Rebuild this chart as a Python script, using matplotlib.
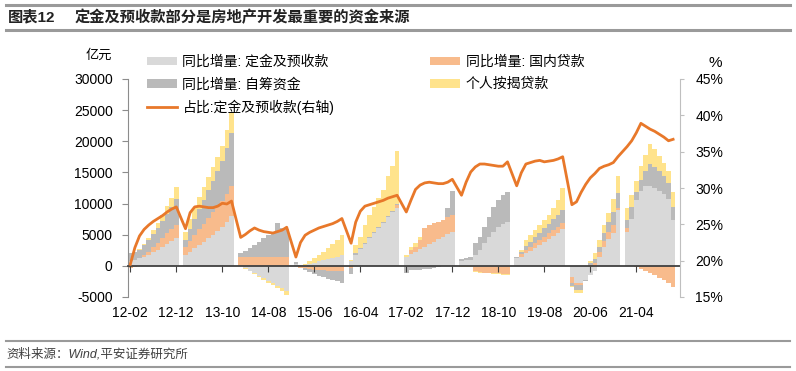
import matplotlib
matplotlib.use("Agg")
import matplotlib.pyplot as plt
import numpy as np
from matplotlib.lines import Line2D
from matplotlib.patches import Patch

plt.rcParams["font.family"] = ["Liberation Sans", "Noto Sans CJK SC", "DejaVu Sans"]
plt.rcParams["axes.unicode_minus"] = False

# 1-2月合并公布，所以每年只有 2 月到 12 月（1 月留空）
years = [12, 13, 14, 15, 16, 17, 18, 19, 20, 21]
months = [2, 3, 4, 5, 6, 7, 8, 9, 10, 11, 12]

# 同比增量（亿元），每行一年：2月 ... 12月
deposit = [  # 定金及预收款
    800, 1000, 1200, 1500, 1800, 2200, 2600, 3000, 3500, 4000, 4500,
    1800, 2300, 2800, 3300, 3800, 4400, 5000, 5600, 6200, 7000, 8000,
    0, -400, -800, -1200, -1600, -2000, -2400, -2800, -3200, -3600, -4100,
    300, 100, 200, 300, 500, 700, 900, 1100, 1300, 1500, 1700,
    700, 1800, 2700, 3500, 4400, 5200, 6100, 6900, 7800, 8600, 9300,
    1500, 1900, 2300, 2700, 3100, 3500, 3900, 4300, 4700, 5100, 5500,
    800, 900, 1000, 1800, 2600, 3600, 4700, 5500, 6300, 6800, 7100,
    1300, 1500, 2000, 2400, 2900, 3300, 3800, 4300, 4800, 5300, 5900,
    -1800, -2800, -2800, -2200, -1500, -900, 1500, 3000, 4300, 5300, 9000,
    5500, 7500, 10500, 12000, 12800, 12800, 12500, 12000, 11500, 10800, 7400,
]
loan = [  # 国内贷款
    -300, -200, -100, 200, 500, 800, 1100, 1400, 1700, 1900, 2000,
    1200, 1700, 2200, 2600, 3000, 3300, 3600, 3900, 4200, 4500, 4800,
    1400, 1400, 1400, 1400, 1400, 1400, 1500, 1500, 1500, 1500, 1500,
    0, -300, -400, -500, -600, -700, -700, -800, -800, -800, -800,
    -300, 0, 0, 0, 0, 0, 0, 0, 0, 0, 400,
    0, 700, 800, 1500, 2900, 3100, 3000, 2800, 2700, 2700, 2700,
    0, 0, 0, -800, -1000, -1100, -1100, -1200, -1200, -1300, -1300,
    0, 400, 600, 700, 800, 900, 900, 1000, 1000, 1000, 1000,
    -1000, -300, -300, 0, 200, 500, 700, 1000, 1200, 1300, 300,
    500, 0, -200, -500, -800, -1100, -1500, -1900, -2300, -2800, -3400,
]
self_fund = [  # 自筹资金
    1200, 1300, 1400, 1600, 1800, 2100, 2400, 2800, 3200, 3600, 4200,
    1200, 1900, 2600, 3200, 3800, 4400, 5000, 5700, 6400, 7500, 8600,
    700, 1000, 1500, 2000, 2500, 3000, 3500, 4000, 5400, 4500, 4400,
    300, -100, -300, -500, -700, -900, -1100, -1300, -1500, -1700, -1900,
    -1000, 200, 200, 200, 200, 200, 200, 200, 200, 200, 200,
    -1100, -600, -600, -600, -500, -500, -400, -200, 0, 1500, 3800,
    300, 400, 500, 1800, 2100, 2700, 3200, 4000, 4200, 4500, 4800,
    200, 300, 600, 800, 900, 1100, 1300, 1500, 1700, 1900, 2100,
    -500, -700, -700, -200, 200, 600, 900, 1200, 1500, 2000, 2400,
    1300, 1900, 1300, 1800, 2400, 3500, 3400, 3200, 3000, 2500, 2100,
]
mortgage = [  # 个人按揭贷款
    0, 0, 100, 200, 400, 600, 800, 1000, 1200, 1400, 2000,
    1300, 1600, 1700, 1900, 2000, 2100, 2200, 2300, 2400, 2800, 3300,
    0, -50, -100, -150, -200, -250, -300, -350, -400, -450, -600,
    0, 0, 100, 400, 700, 1000, 1400, 1800, 2200, 2700, 3200,
    300, 1400, 1800, 2900, 3600, 4100, 4600, 5100, 6400, 7200, 8500,
    300, 400, 500, 400, 0, 0, 0, 0, 0, 0, 0,
    -200, -200, -200, -200, -100, -100, -100, -100, -100, -100, -100,
    0, 400, 1000, 1100, 1200, 1300, 1400, 1400, 1800, 2400, 3500,
    -100, -600, -600, -100, 300, 900, 1100, 1300, 1500, 2200, 2700,
    2000, 2000, 1800, 2200, 2600, 3200, 2800, 2400, 2000, 1900, 2400,
]
# 占比:定金及预收款（%，右轴）
share = [
    19.5, 21.8, 23.4, 24.3, 24.9, 25.4, 25.8, 26.2, 26.7, 27.1, 27.4,
    24.4, 26.6, 27.4, 27.5, 27.4, 27.3, 27.3, 27.5, 27.9, 27.8, 28.2,
    23.2, 23.6, 24.1, 24.5, 24.2, 24.0, 23.9, 23.8, 24.0, 24.2, 24.6,
    20.5, 22.5, 23.5, 23.9, 24.2, 24.5, 24.7, 24.9, 25.1, 25.4, 25.8,
    22.4, 25.3, 26.8, 27.5, 27.7, 27.9, 28.1, 28.3, 28.6, 28.8, 29.0,
    26.7, 28.3, 29.8, 30.4, 30.7, 30.8, 30.7, 30.6, 30.6, 30.8, 31.2,
    29.0, 30.8, 32.2, 32.9, 33.3, 33.3, 33.2, 33.1, 33.0, 33.0, 33.6,
    30.3, 32.1, 33.3, 33.5, 33.7, 33.8, 33.6, 33.7, 33.8, 34.0, 34.3,
    27.7, 28.1, 29.4, 30.5, 31.4, 32.0, 32.7, 33.0, 33.2, 33.5, 34.3,
    35.7, 36.5, 37.6, 38.9, 38.5, 38.1, 37.8, 37.4, 37.0, 36.5, 36.7,
]

# 横轴按月排列（含空的1月），每 10 个月一个刻度
axis_months = [f"{y:02d}-{m:02d}" for y in years + [22] for m in range(1, 13)][1:121]
tick_step = 10

series = [
    ("同比增量: 定金及预收款", deposit, "#d9d9d9"),
    ("同比增量: 国内贷款", loan, "#f8bb8c"),
    ("同比增量: 自筹资金", self_fund, "#bababa"),
    ("个人按揭贷款", mortgage, "#ffe38c"),
]
line_color = "#e8782a"

labels = [f"{y:02d}-{m:02d}" for y in years for m in months]
x = np.array([axis_months.index(lab) for lab in labels])

fig = plt.figure(figsize=(7.96, 3.71), dpi=100)
ax = fig.add_axes([128 / 796, 1 - 297 / 371, 552 / 796, 218 / 371])

pos_bottom = np.zeros(len(x))
neg_bottom = np.zeros(len(x))
handles = {}
for name, vals, color in series:
    v = np.array(vals, dtype=float)
    bottom = np.where(v >= 0, pos_bottom, neg_bottom)
    ax.bar(x, v, width=1.0, bottom=bottom, color=color, linewidth=0)
    pos_bottom = pos_bottom + np.where(v >= 0, v, 0)
    neg_bottom = neg_bottom + np.where(v < 0, v, 0)
    handles[name] = Patch(facecolor=color, edgecolor="none")

ax.set_xlim(-0.5, len(axis_months) - 0.5)
ax.set_ylim(-5000, 30000)
ax.set_yticks(np.arange(-5000, 30001, 5000))
ax.set_xticks(range(0, len(axis_months), tick_step))
ax.set_xticklabels(axis_months[::tick_step])

for side in ["top", "right"]:
    ax.spines[side].set_visible(False)
ax.spines["left"].set_color("#8c8c8c")
ax.spines["bottom"].set_position(("data", 0))
ax.spines["bottom"].set_color("#404040")
ax.spines["bottom"].set_linewidth(1.3)
ax.tick_params(axis="y", length=4, color="#8c8c8c", labelsize=10, pad=7)
ax.tick_params(axis="x", length=4, color="#404040", labelsize=10, pad=25)

ax2 = ax.twinx()
ax2.plot(x, share, color=line_color, linewidth=2)
ax2.set_ylim(15, 45)
ax2.set_yticks(range(15, 46, 5))
ax2.set_yticklabels([f"{v}%" for v in range(15, 46, 5)])
for side in ["top", "left", "bottom"]:
    ax2.spines[side].set_visible(False)
ax2.spines["right"].set_color("#bfbfbf")
ax2.tick_params(axis="y", length=3, color="#bfbfbf", labelsize=10, pad=8)

leg_handles = [
    handles["同比增量: 定金及预收款"],
    handles["同比增量: 自筹资金"],
    Line2D([0], [0], color=line_color, linewidth=2),
    handles["同比增量: 国内贷款"],
    handles["个人按揭贷款"],
]
leg_labels = ["同比增量: 定金及预收款", "同比增量: 自筹资金", "占比:定金及预收款(右轴)",
              "同比增量: 国内贷款", "个人按揭贷款"]
fig.legend(leg_handles, leg_labels, loc="upper left", bbox_to_anchor=(147 / 796, 1 - 55 / 371),
           ncol=2, frameon=False, fontsize=10, handlelength=2.15, handleheight=0.55,
           handletextpad=0.4, labelspacing=0.6, columnspacing=6.9, borderpad=0, borderaxespad=0)

fig.text(99 / 796, 1 - 56 / 371, "亿元", fontsize=9.5, ha="center", va="center")
fig.text(715 / 796, 1 - 63 / 371, "%", fontsize=11, ha="center", va="center")

# 标题和来源
fig.text(8 / 796, 1 - 17 / 371, "图表12", fontsize=11, fontweight="bold", va="center", color="#222222")
fig.text(75 / 796, 1 - 17 / 371, "定金及预收款部分是房地产开发最重要的资金来源", fontsize=11,
         fontweight="bold", va="center", color="#222222")
fig.text(6 / 796, 1 - 354 / 371, "资料来源：Wind,平安证券研究所", fontsize=9, va="center",
         color="#404040", style="italic")
for yy, lw in [(5, 2.2), (30, 2.2), (341, 1.5), (367, 1.5)]:
    fig.add_artist(Line2D([6 / 796, 790 / 796], [1 - yy / 371] * 2, color="#9a9a9a", linewidth=lw))

fig.savefig("out.png", dpi=100)
